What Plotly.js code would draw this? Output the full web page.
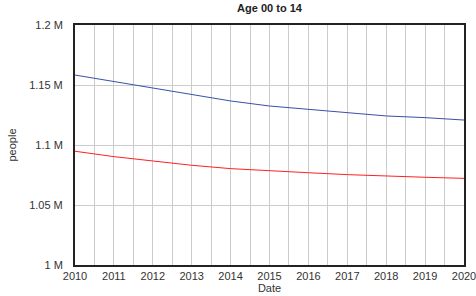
<!DOCTYPE html>
<html>
<head>
<meta charset="utf-8">
<script src="https://cdn.plot.ly/plotly-3.0.1.min.js"></script>
<style>html,body{margin:0;padding:0;background:#fff;}#chart{width:476px;height:296px;}</style>
</head>
<body>
<div id="chart"></div>
<script>
const years = [2010, 2011, 2012, 2013, 2014, 2015, 2016, 2017, 2018, 2019, 2020];
const seriesBlue = [1158300, 1152800, 1147300, 1142200, 1136700, 1132500, 1129800, 1126900, 1124200, 1122800, 1120800];
const seriesRed = [1094800, 1090300, 1086700, 1083100, 1080300, 1078900, 1076900, 1075300, 1073900, 1073100, 1072200];
const yTickVals = [1000000, 1050000, 1100000, 1150000, 1200000];
const yTickText = ["1 M", "1.05 M", "1.1 M", "1.15 M", "1.2 M"];
const xTickVals = years;
const xTickText = years.map(String);

const font = {family: "Liberation Sans, Arial, sans-serif", size: 11, color: "#333"};

const traces = [
  {x: years, y: seriesBlue, type: "scatter", mode: "lines", line: {color: "#3a4fa8", width: 1}, hoverinfo: "skip"},
  {x: years, y: seriesRed, type: "scatter", mode: "lines", line: {color: "#ff2020", width: 1}, hoverinfo: "skip"}
];

const layout = {
  width: 476, height: 296,
  margin: {l: 75, r: 12, t: 25, b: 31},
  paper_bgcolor: "#fff", plot_bgcolor: "#fff",
  showlegend: false,
  font: font,
  title: {text: "<b>Age 00 to 14</b>", x: 0.5, xref: "paper", y: 0.985, yanchor: "top", font: {family: font.family, size: 11, color: "#222"}},
  xaxis: {
    range: [2010, 2020], tickvals: xTickVals, ticktext: xTickText,
    showgrid: true, gridcolor: "#cccccc", gridwidth: 1,
    minor: {dtick: 0.5, tick0: 2010, showgrid: true, gridcolor: "#cccccc", gridwidth: 1, ticks: ""},
    showline: true, linecolor: "#222", linewidth: 2, mirror: true,
    ticks: "", zeroline: false, tickfont: font, ticklabeloverflow: "allow",
    title: {text: "Date", font: font, standoff: 2}
  },
  yaxis: {
    range: [1000000, 1200000], tickvals: yTickVals, ticktext: yTickText,
    showgrid: true, gridcolor: "#cccccc", gridwidth: 1,
    showline: true, linecolor: "#222", linewidth: 2, mirror: true,
    ticks: "", zeroline: false, tickfont: font, ticklabelstandoff: 8,
    title: {text: "people", font: font, standoff: 10}
  }
};

Plotly.newPlot("chart", traces, layout, {staticPlot: true, displayModeBar: false});
</script>
</body>
</html>
